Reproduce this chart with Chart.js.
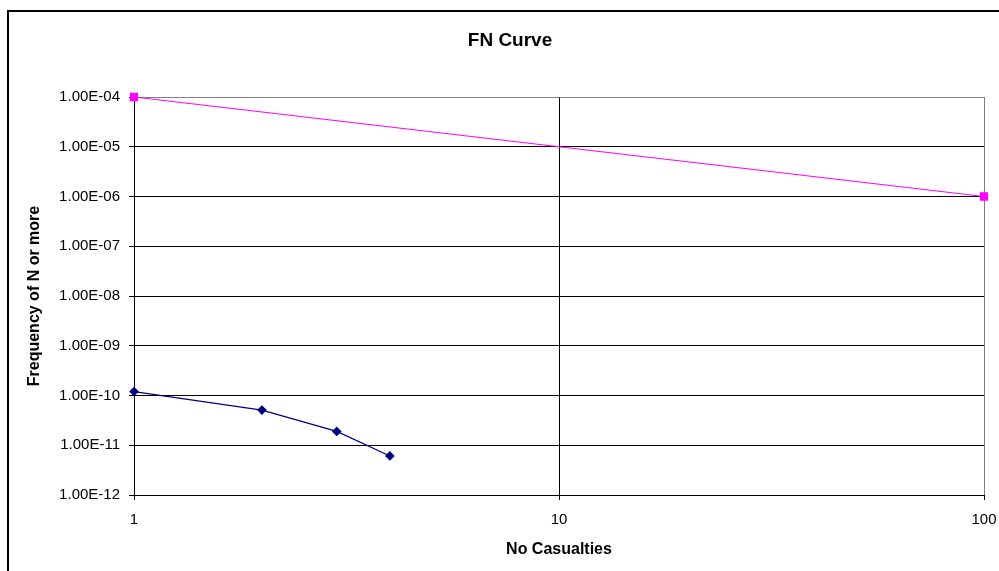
<!DOCTYPE html>
<html>
<head>
<meta charset="utf-8">
<script src="https://cdn.jsdelivr.net/npm/chart.js@4.4.1/dist/chart.umd.min.js"></script>
<style>
  html, body { margin: 0; padding: 0; background: #fff; }
  #wrap { width: 999px; height: 571px; }
</style>
</head>
<body>
<div id="wrap"><canvas id="fn-curve" width="999" height="571"></canvas></div>
<script>
// FN curve data
const casualties = [1, 2, 3, 4];
const frequency = [1.2e-10, 5.1e-11, 1.9e-11, 6.1e-12];
const criterionN = [1, 100];
const criterionF = [1e-4, 1e-6];

const xTicks = [1, 10, 100];
const yTicks = [1e-12, 1e-11, 1e-10, 1e-9, 1e-8, 1e-7, 1e-6, 1e-5, 1e-4];

const FONT = 'Liberation Sans, Arial, sans-serif';

// 1.00E-04 style labels
function sciLabel(v) {
  const parts = Number(v).toExponential(2).toUpperCase().split('E');
  const exp = parseInt(parts[1], 10);
  const sign = exp < 0 ? '-' : '+';
  const digits = String(Math.abs(exp)).padStart(2, '0');
  return parts[0] + 'E' + sign + digits;
}

// outer frame + title
const frame = {
  id: 'frame',
  beforeDraw(chart) {
    const ctx = chart.ctx;
    ctx.save();
    ctx.fillStyle = '#fff';
    ctx.fillRect(0, 0, chart.width, chart.height);
    ctx.strokeStyle = '#000';
    ctx.lineWidth = 2;
    ctx.strokeRect(8, 11, chart.width + 20, chart.height + 20);
    ctx.restore();
  },
  afterDraw(chart) {
    const ctx = chart.ctx;
    ctx.save();
    ctx.fillStyle = '#000';
    ctx.font = 'bold 19px ' + FONT;
    ctx.textAlign = 'center';
    ctx.textBaseline = 'middle';
    ctx.fillText('FN Curve', 510, 41);
    ctx.restore();
  }
};

new Chart(document.getElementById('fn-curve'), {
  type: 'scatter',
  data: {
    datasets: [
      {
        label: 'FN',
        data: casualties.map((n, i) => ({ x: n, y: frequency[i] })),
        showLine: true,
        borderColor: '#000080',
        backgroundColor: '#000080',
        borderWidth: 1.2,
        pointStyle: 'rectRot',
        pointRadius: 4,
        pointHoverRadius: 4,
        clip: false
      },
      {
        label: 'Criterion',
        data: criterionN.map((n, i) => ({ x: n, y: criterionF[i] })),
        showLine: true,
        borderColor: '#ff00ff',
        backgroundColor: '#ff00ff',
        borderWidth: 1.2,
        pointStyle: 'rect',
        pointRadius: 5,
        pointHoverRadius: 5,
        clip: false
      }
    ]
  },
  options: {
    responsive: false,
    animation: false,
    layout: { padding: { left: 0, right: 15, top: 97, bottom: 0 } },
    plugins: {
      legend: { display: false },
      title: { display: false },
      tooltip: { enabled: false }
    },
    scales: {
      x: {
        type: 'logarithmic',
        min: 1,
        max: 100,
        afterBuildTicks: s => { s.ticks = xTicks.map(v => ({ value: v })); },
        afterFit: s => {
          s.height = 76;
          s.paddingLeft = 0;
          s.paddingRight = 0;
        },
        ticks: {
          color: '#000',
          font: { family: FONT, size: 15 },
          padding: 11,
          maxRotation: 0,
          callback: v => String(v)
        },
        grid: {
          color: c => (c.tick && c.tick.value === 100 ? '#808080' : '#000'),
          tickColor: '#000',
          tickLength: 5,
          lineWidth: 1
        },
        border: { color: '#000', width: 1 },
        title: {
          display: true,
          text: 'No Casualties',
          color: '#000',
          font: { family: FONT, size: 16, weight: 'bold' },
          padding: { top: 0, bottom: 12 }
        }
      },
      y: {
        type: 'logarithmic',
        min: 1e-12,
        max: 1e-4,
        afterBuildTicks: s => { s.ticks = yTicks.map(v => ({ value: v })); },
        afterFit: s => {
          s.width = 134;
          s.paddingTop = 0;
          s.paddingBottom = 0;
        },
        ticks: {
          color: '#000',
          font: { family: FONT, size: 15 },
          padding: 9,
          callback: v => sciLabel(v)
        },
        grid: {
          color: c => (c.tick && c.tick.value === 1e-4 ? '#808080' : '#000'),
          tickColor: '#000',
          tickLength: 5,
          lineWidth: 1
        },
        border: { color: '#000', width: 1 },
        title: {
          display: true,
          text: 'Frequency of N or more',
          color: '#000',
          font: { family: FONT, size: 16, weight: 'bold' },
          padding: { top: 25, bottom: 0 }
        }
      }
    }
  },
  plugins: [frame]
});
</script>
</body>
</html>
